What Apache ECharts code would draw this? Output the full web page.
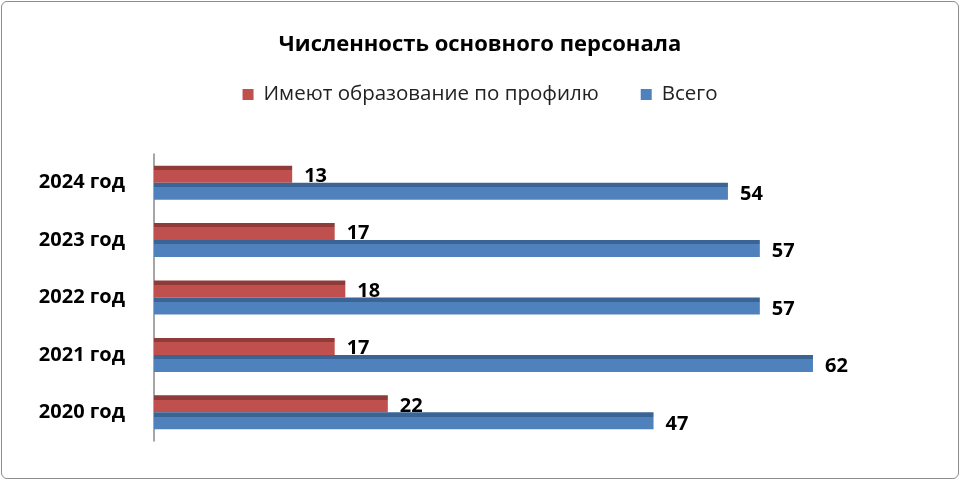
<!DOCTYPE html>
<html><head><meta charset="utf-8">
<script src="https://cdn.jsdelivr.net/npm/echarts@6/dist/echarts.min.js"></script>
<style>
html,body{margin:0;padding:0;background:#fff;}
#c{position:absolute;left:1px;top:1px;width:956px;height:476px;border:1px solid #8c8c8c;border-radius:6px;box-sizing:content-box;}
</style></head>
<body><div id="c"></div>
<script>
const categories = ['2020 год','2021 год','2022 год','2023 год','2024 год'];
const profileValues = [22, 17, 18, 17, 13];
const totalValues = [47, 62, 57, 57, 54];
const seriesNames = ['Имеют образование по профилю', 'Всего'];

function grad(top, front){
  return {type:'linear',x:0,y:0,x2:0,y2:1,colorStops:[
    {offset:0,color:top},{offset:0.25,color:top},{offset:0.25,color:front},{offset:1,color:front}]};
}
const FONT = 'Open Sans';
const chart = echarts.init(document.getElementById('c'));
const labelStyle = {show:true,position:'right',distance:12,fontFamily:FONT,fontWeight:'bold',fontSize:20,color:'#000'};
chart.setOption({
  animation:false,
  title:{text:'Численность основного персонала',left:'center',top:27,
    textStyle:{fontFamily:FONT,fontWeight:'bold',fontSize:22,color:'#000'}},
  legend:{top:77,left:'center',itemWidth:11,itemHeight:11,itemGap:42,icon:'rect',
    textStyle:{fontFamily:FONT,fontSize:20.5,color:'#222',padding:[0,0,0,5]},
    data:[{name:seriesNames[0],itemStyle:{color:'#C0504D'}},{name:seriesNames[1],itemStyle:{color:'#4F81BD'}}]},
  grid:{left:152,right:60,top:152,bottom:37},
  xAxis:{type:'value',min:0,max:70,show:false},
  yAxis:{type:'category',data:categories,
    axisLine:{show:true,lineStyle:{color:'#888',width:1.5}},axisTick:{show:false},
    axisLabel:{fontFamily:FONT,fontWeight:'bold',fontSize:20,color:'#000',margin:29}},
  series:[
    {name:seriesNames[0],type:'bar',data:profileValues,barWidth:17,barGap:'0%',
      itemStyle:{color:grad('#8E3B39','#C0504D')},label:Object.assign({},labelStyle,{offset:[0,2]})},
    {name:seriesNames[1],type:'bar',data:totalValues,barWidth:17,
      itemStyle:{color:grad('#3B6496','#4F81BD')},label:Object.assign({},labelStyle,{offset:[0,3]})}
  ]
});
</script></body></html>
